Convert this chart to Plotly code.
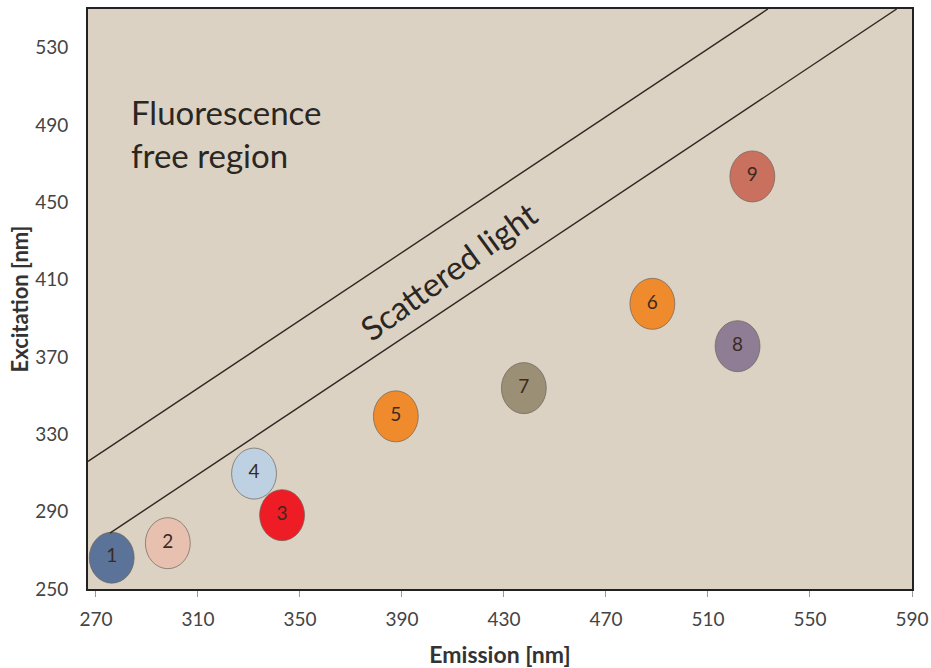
import plotly.graph_objects as go

# Fluorophore peaks: emission / excitation maxima (nm)
labels = ["1", "2", "3", "4", "5", "6", "7", "8", "9"]
emission = [276.2, 298.2, 343.0, 332.0, 387.6, 488.2, 437.8, 521.6, 527.4]
excitation = [266.2, 273.7, 288.2, 309.7, 339.3, 397.5, 353.9, 375.6, 463.4]
fill_colors = ["#5b7299", "#e7c0af", "#ee1c25", "#bdd1e2", "#ef8a2d",
               "#ef8a2d", "#9b8f76", "#8f7d96", "#c9705f"]

# Boundaries of the scattered-light band
upper_em = [266.9, 533.5]
upper_ex = [316.0, 550.0]
lower_em = [275.5, 584.0]
lower_ex = [278.9, 550.0]

x_ticks = [270, 310, 350, 390, 430, 470, 510, 550, 590]
y_ticks = [250, 290, 330, 370, 410, 450, 490, 530]

FONT = "Lato"
half_w, half_h = 8.8, 13.2  # ellipse semi-axes in data units

fig = go.Figure()

for xs, ys in [(upper_em, upper_ex), (lower_em, lower_ex)]:
    fig.add_trace(go.Scatter(x=xs, y=ys, mode="lines",
                             line=dict(color="#2e2923", width=1.4),
                             hoverinfo="skip", showlegend=False))

shapes = []
for ex_, ey_, c in zip(emission, excitation, fill_colors):
    shapes.append(dict(type="circle", xref="x", yref="y", layer="below",
                       x0=ex_ - half_w, x1=ex_ + half_w,
                       y0=ey_ - half_h, y1=ey_ + half_h,
                       fillcolor=c, line=dict(color="rgba(110,100,90,0.7)", width=1)))

fig.add_trace(go.Scatter(x=emission, y=excitation, mode="text", text=labels,
                         textfont=dict(family=FONT, size=19, color="#3b2a22"),
                         showlegend=False, hoverinfo="skip"))

fig.add_annotation(x=283.0, y=485.4, xref="x", yref="y", xanchor="left",
                   yanchor="middle", align="left", showarrow=False,
                   text="Fluorescence<br>free region",
                   font=dict(family=FONT, size=33, color="#2a2622"))
fig.add_annotation(x=408.0, y=414.7, xref="x", yref="y", showarrow=False,
                   text="Scattered light", textangle=-36,
                   font=dict(family=FONT, size=33, color="#2a2622"))

fig.update_layout(
    width=931, height=668,
    margin=dict(l=88, r=19, t=9, b=79),
    paper_bgcolor="white", plot_bgcolor="#dcd2c3",
    shapes=shapes,
    xaxis=dict(range=[266.9, 590], tickvals=x_ticks, showgrid=False, zeroline=False,
               showline=True, linecolor="#222", linewidth=2, mirror=True,
               automargin=False,
               ticks="outside", ticklen=6, tickcolor="#999", ticklabelstandoff=6,
               tickfont=dict(family=FONT, size=19, color="#444"),
               title=dict(text="<b>Emission [nm]</b>", standoff=18,
                          font=dict(family=FONT, size=23, color="#333"))),
    yaxis=dict(range=[250, 550], tickvals=y_ticks, showgrid=False, zeroline=False,
               showline=True, linecolor="#222", linewidth=2, mirror=True,
               automargin=False,
               ticks="", ticklabelstandoff=14,
               tickfont=dict(family=FONT, size=19, color="#444"),
               title=dict(text="<b>Excitation [nm]</b>", standoff=0,
                          font=dict(family=FONT, size=22, color="#333"))),
)

fig.write_html("out.html")
